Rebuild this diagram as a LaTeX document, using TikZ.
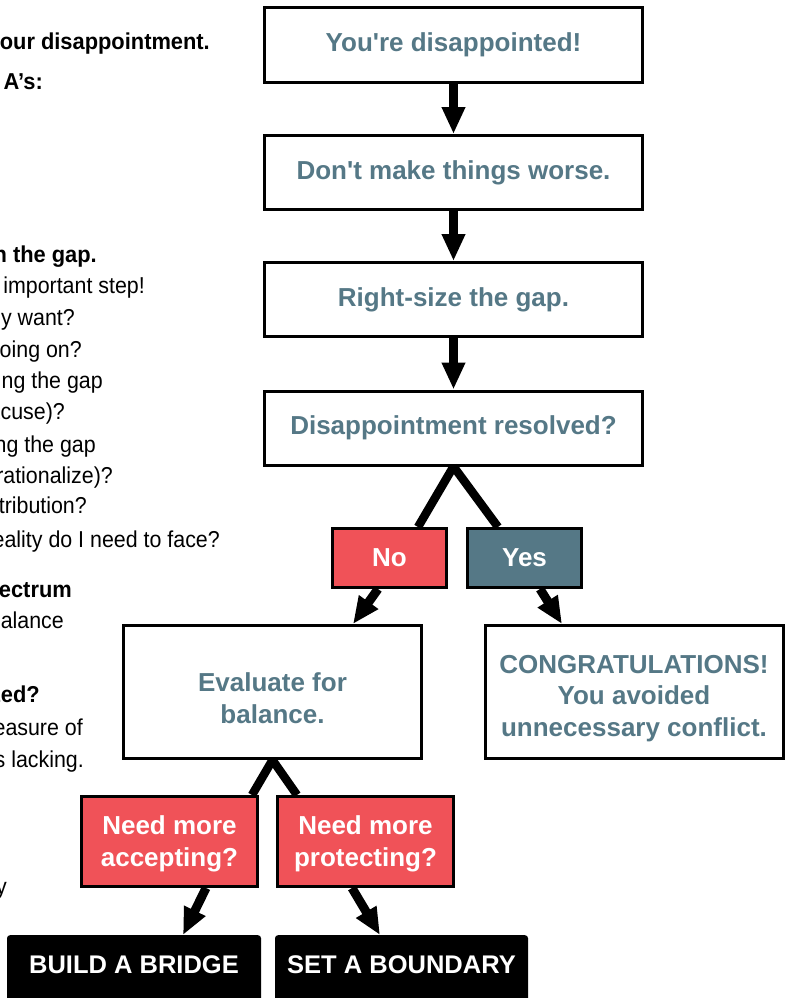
\documentclass[tikz,border=0pt]{standalone}
\usepackage{fontspec}
\setmainfont{Liberation Sans}
\newfontfamily\leftfont[FakeStretch=0.93]{Liberation Sans}
\newfontfamily\leftboldfont[FakeStretch=0.95]{Liberation Sans Bold}
\usetikzlibrary{arrows.meta}
\definecolor{slate}{RGB}{85,120,134}
\definecolor{alertred}{RGB}{240,82,88}
\begin{document}
\begin{tikzpicture}[x=1pt,y=-1pt,
  boxfont/.style={font=\fontsize{26}{31.5}\selectfont\bfseries},
  box/.style={draw=black, line width=3pt, fill=white, text=slate, boxfont,
    align=center, inner sep=0pt, minimum width=378pt, minimum height=74pt},
  bigbox/.style={box, minimum width=298pt, minimum height=133pt},
  redbox/.style={box, fill=alertred, text=white},
  slatebox/.style={box, fill=slate, text=white},
  boxtext/.style={boxfont, align=center, inner sep=0pt},
  endbox/.style={fill=black, text=white, rounded corners=3pt, anchor=north,
    font=\fontsize{25.5}{31}\selectfont\bfseries, inner xsep=0pt, inner ysep=20pt,
    text height=18pt, text depth=32pt},
  arr/.style={line width=9pt, -{Triangle[width=22pt,length=27pt]}},
  branch/.style={line width=8.5pt},
  lt/.style={anchor=base east, inner sep=0pt, font=\leftfont\fontsize{23}{27}\selectfont},
  ltb/.style={lt, font=\leftboldfont\fontsize{23}{27}\selectfont}]
\useasboundingbox (0,0) rectangle (789,998);
\clip (0,0) rectangle (789,998);
% left text column (cropped)
\node[ltb] (t1) at (210,49) {our disappointment.};
\node[ltb] (t2) at (43,89) {A’s:};
\node[ltb] (t3) at (97,262) {n the gap.};
\node[lt] (t4) at (145,293) {important step!};
\node[lt] (t5) at (75,325) {y want?};
\node[lt] (t6) at (82,357) {oing on?};
\node[lt] (t7) at (103,388) {ng the gap};
\node[lt] (t8) at (65,419) {xcuse)?};
\node[lt] (t9) at (96,452) {ng the gap};
\node[lt] (t10) at (113,483) {rationalize)?};
\node[lt] (t11) at (87,513) {tribution?};
\node[lt] (t12) at (220,547) {eality do I need to face?};
\node[ltb] (t13) at (72,597) {ectrum};
\node[lt] (t14) at (64,628) {balance};
\node[lt] (t15) at (2,659) {.};
\node[ltb] (t16) at (40,702) {zed?};
\node[lt] (t17) at (83,735) {easure of};
\node[lt] (t18) at (84,767) {s lacking.};
\node[lt] (t19) at (7,894) {y};
% flowchart
\node[box] (b1) at (453.5,45) {You\textquotesingle re disappointed!};
\node[box] (b2) at (453.5,172.5) {Don\textquotesingle t make things worse.};
\node[box] (b3) at (453.5,299.5) {Right-size the gap.};
\node[box] (b4) at (453.5,428) {Disappointment resolved?};
\node[redbox, minimum width=114pt, minimum height=59pt] (no) at (389.5,558) {No};
\node[slatebox, minimum width=114pt, minimum height=59pt] (yes) at (524.5,558) {Yes};
\node[bigbox] (eval) at (272.5,692) {};
\node[boxtext, text=slate] (evaltxt) at ([yshift=-6pt]eval.center) {Evaluate for\\balance.};
\node[bigbox] (cong) at (634,692) {};
\node[boxtext, text=slate] (congtxt) at ([yshift=-6.5pt]cong.center) {CONGRATULATIONS!\\You avoided\\unnecessary conflict.};
\node[redbox, minimum width=176pt, minimum height=90pt] (acc) at (169.5,841.5) {};
\node[boxtext, text=white] (acctxt) at ([yshift=-2.5pt]acc.center) {Need more\\accepting?};
\node[redbox, minimum width=176pt, minimum height=90pt] (pro) at (365.5,841.5) {};
\node[boxtext, text=white] (protxt) at ([yshift=-2.5pt]pro.center) {Need more\\protecting?};
\node[endbox, minimum width=254pt] (bridge) at (134,935) {BUILD A BRIDGE};
\node[endbox, minimum width=253pt] (bound) at (401.5,935) {SET A BOUNDARY};
% connectors
\draw[arr] (b1.south) -- (b2.north);
\draw[arr] (b2.south) -- (b3.north);
\draw[arr] (b3.south) -- (b4.north);
\draw[branch] (b4.south) -- ([xshift=28.5pt]no.north);
\draw[branch] (b4.south) -- ([xshift=-26.5pt]yes.north);
\draw[arr] ([xshift=-11.5pt]no.south) -- ([xshift=80.5pt]eval.north);
\draw[arr] ([xshift=15.5pt]yes.south) -- ([xshift=-72pt]cong.north);
\draw[branch] (eval.south) -- ([xshift=82.5pt]acc.north);
\draw[branch] (eval.south) -- ([xshift=-68.5pt]pro.north);
\draw[arr] ([xshift=36.5pt]acc.south) -- ([xshift=49pt]bridge.north);
\draw[arr] ([xshift=-13.5pt]pro.south) -- ([xshift=-21.5pt]bound.north);
\end{tikzpicture}
\end{document}
